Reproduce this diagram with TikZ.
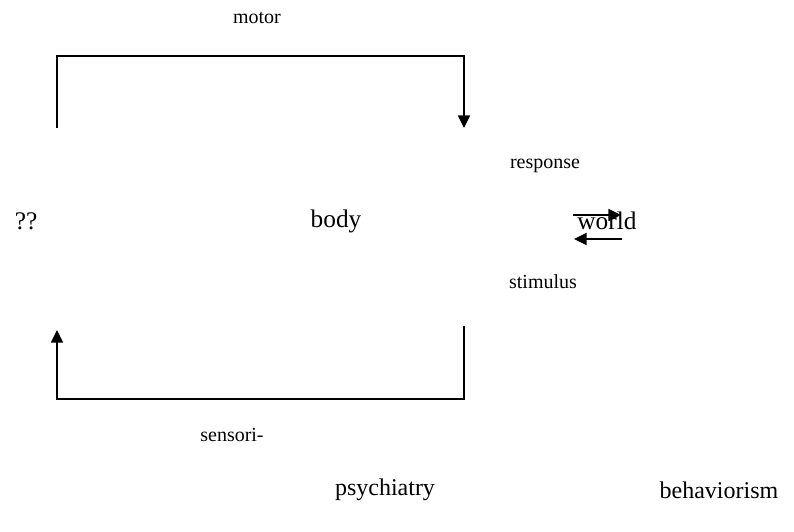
\documentclass[tikz,border=0pt]{standalone}
\usepackage{fontspec}
\setmainfont{Liberation Serif}
\usetikzlibrary{arrows.meta}

\begin{document}
\begin{tikzpicture}[line cap=butt,line join=miter,>={Triangle[length=9.5pt,width=9pt]},x=0.75pt,y=-0.75pt,
		big/.style={font=\fontsize{19}{22}\selectfont},
		small/.style={font=\fontsize{15}{18}\selectfont},
		wire/.style={line width=1.2pt}]
		\useasboundingbox (0,0) rectangle (794,532);
		% texts
		\node[small] (motor) at (257,18) {motor};
		\node[small] (response) at (545,166) {response};
		\node[big] (unknown) at (26,221) {??};
		\node[big] (body) at (336,221) {body};
		\node[big] (world) at (607,221) {world};
		\node[small] (stimulus) at (543,282) {stimulus};
		\node[small] (sensori) at (232,435) {sensori-};
		\node[big,font=\fontsize{18}{21}\selectfont] (psychiatry) at (385,490) {psychiatry};
		\node[big,font=\fontsize{18}{21}\selectfont] (behaviorism) at (719,490) {behaviorism};
		% motor loop
		\coordinate (m1) at (57,128);
		\coordinate (m2) at (464,128);
		\draw[wire,->] (m1) -- ++(0,-72) -| (m2);
		% sensory loop
		\coordinate (s1) at (464,326);
		\coordinate (s2) at (57,330);
		\draw[wire,->] (s1) -- ++(0,73) -| (s2);
		% response and stimulus
		\coordinate (r1) at (573,215);
		\coordinate (r2) at (621,215);
		\coordinate (t1) at (622,239);
		\coordinate (t2) at (574,239);
		\draw[wire,->] (r1) -- (r2);
		\draw[wire,->] (t1) -- (t2);
	\end{tikzpicture}
\end{document}
